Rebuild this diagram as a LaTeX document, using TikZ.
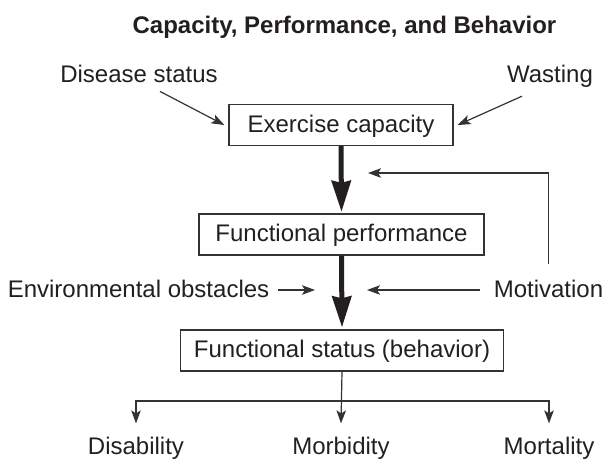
\documentclass[tikz,border=0pt]{standalone}
\usepackage{fontspec}
\setmainfont{Liberation Sans}
\usetikzlibrary{arrows.meta}
\definecolor{ink}{HTML}{231F20}
\definecolor{linec}{HTML}{333333}
\begin{document}
\begin{tikzpicture}[x=1pt,y=-1pt,
 every node/.style={text=ink, font=\fontsize{24}{28}\selectfont},
 lbl/.style={anchor=base, inner sep=0pt},
 boxnode/.style={draw=linec, line width=1.3pt, minimum height=41pt, text height=17pt, text depth=3pt, inner sep=0pt},
 thinarr/.style={draw=linec, line width=1.2pt, -{Stealth[length=13pt,width=9.5pt,inset=3pt]}},
 thinline/.style={draw=linec, line width=1.2pt},
 thickarr/.style={draw=ink, line width=5pt, -{Stealth[length=31pt,width=19pt,inset=2pt]}}
]
\useasboundingbox (0,0) rectangle (605,458);

\node[lbl, font=\bfseries\fontsize{24}{28}\selectfont] (title) at (344.5,33) {Capacity, Performance, and Behavior};
\node[lbl] (dis) at (139,82) {Disease status};
\node[lbl] (was) at (550,82) {Wasting};
\node[boxnode, minimum width=224pt] (ex) at (341,125) {Exercise capacity};
\node[boxnode, minimum width=285pt] (fp) at (341.5,234.5) {Functional performance};
\node[boxnode, minimum width=323pt] (fs) at (342,350.5) {Functional status (behavior)};
\node[lbl] (env) at (138.5,297) {Environmental obstacles};
\node[lbl] (mot) at (548.5,297) {Motivation};
\node[lbl] (disab) at (136,454) {Disability};
\node[lbl] (morb) at (341,454) {Morbidity};
\node[lbl] (mort) at (549,454) {Mortality};

\coordinate (fbend) at (368,173);
\coordinate (mtip) at (367,290);
\coordinate (etip) at (315,290);
\coordinate (split) at (341,401);

\draw[thinarr] ([shift={(21pt,-9pt)}]dis.south) -- ([xshift=-4pt]ex.west);
\draw[thinarr] ([shift={(-28pt,-9pt)}]was.south) -- ([xshift=4pt]ex.east);
\draw[thickarr, shorten >=1.5pt] (ex.south) -- (fp.north);
\draw[thickarr, shorten >=2pt] (fp.south) -- (fs.north);
\draw[thinarr] ([yshift=15pt]mot.north) |- (fbend);
\draw[thinarr] ([shift={(-14pt,7pt)}]mot.base west) -- (mtip);
\draw[thinarr] ([shift={(9pt,7pt)}]env.base east) -- (etip);
\draw[thinarr] (fs.south) -- ([yshift=13pt]morb.north);
\draw[thinarr] (split) -| ([yshift=13pt]disab.north);
\draw[thinarr] (split) -| ([yshift=13pt]mort.north);
\end{tikzpicture}
\end{document}
